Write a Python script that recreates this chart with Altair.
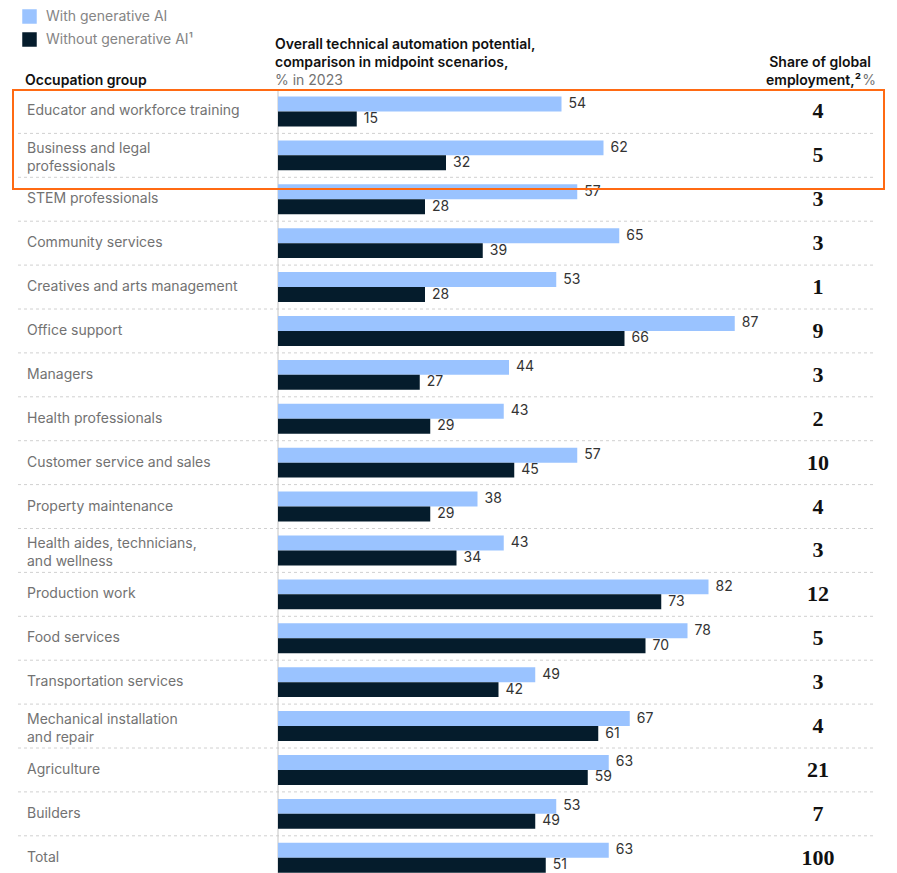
import altair as alt
import pandas as pd

groups = [
    "Educator and workforce training", "Business and legal professionals",
    "STEM professionals", "Community services", "Creatives and arts management",
    "Office support", "Managers", "Health professionals", "Customer service and sales",
    "Property maintenance", "Health aides, technicians, and wellness", "Production work",
    "Food services", "Transportation services", "Mechanical installation and repair",
    "Agriculture", "Builders", "Total",
]
group_labels = [
    "Educator and workforce training", "Business and legal\nprofessionals",
    "STEM professionals", "Community services", "Creatives and arts management",
    "Office support", "Managers", "Health professionals", "Customer service and sales",
    "Property maintenance", "Health aides, technicians,\nand wellness", "Production work",
    "Food services", "Transportation services", "Mechanical installation\nand repair",
    "Agriculture", "Builders", "Total",
]
with_ai = [54, 62, 57, 65, 53, 87, 44, 43, 57, 38, 43, 82, 78, 49, 67, 63, 53, 63]
without_ai = [15, 32, 28, 39, 28, 66, 27, 29, 45, 29, 34, 73, 70, 42, 61, 59, 49, 51]
employment = [4, 5, 3, 3, 1, 9, 3, 2, 10, 4, 3, 12, 5, 3, 4, 21, 7, 100]
series_names = ["With generative AI", "Without generative AI¹"]
colors = ["#9ac3ff", "#051c2c"]

rows = []
for g, w, wo in zip(groups, with_ai, without_ai):
    rows.append({"group": g, "series": series_names[0], "value": w})
    rows.append({"group": g, "series": series_names[1], "value": wo})
bars_df = pd.DataFrame(rows)
groups_df = pd.DataFrame({"group": groups, "label": group_labels, "share": employment})
sep_df = groups_df.iloc[1:].reset_index(drop=True)

W, H = 881, 865
STEP = 43.9
ROW_TOP = 81.5
FONT = "Inter"

y_scale = alt.Scale(domain=groups, range=[ROW_TOP, ROW_TOP + STEP * len(groups)],
                    paddingInner=0, paddingOuter=0)
x_scale = alt.Scale(domain=[0, 100], range=[270, 270 + 525])


def Y(**kw):
    return alt.Y("group:N", scale=y_scale, axis=None, **kw)


yoff = alt.YOffset("series:N", sort=series_names,
                   scale=alt.Scale(paddingInner=0, paddingOuter=0.467))

bars = alt.Chart(bars_df).mark_bar().encode(
    x=alt.X("value:Q", scale=x_scale, axis=None),
    y=Y(),
    yOffset=yoff,
    color=alt.Color("series:N", sort=series_names,
                    scale=alt.Scale(domain=series_names, range=colors),
                    legend=alt.Legend(title=None, orient="none", legendX=14, legendY=1,
                                      symbolType="square", symbolSize=210,
                                      symbolStrokeWidth=0, labelFontSize=14,
                                      labelColor="#858585", labelFont=FONT,
                                      rowPadding=8, padding=0, labelOffset=9)),
)

values = alt.Chart(bars_df).mark_text(align="left", baseline="middle", dx=7,
                                      fontSize=14, font=FONT, color="#333333").encode(
    x=alt.X("value:Q", scale=x_scale, axis=None),
    y=Y(),
    yOffset=yoff,
    text="value:Q",
)

seps = alt.Chart(sep_df).mark_rule(strokeDash=[3, 3], color="#d0d0d0", strokeWidth=1).encode(
    y=Y(bandPosition=0), x=alt.value(10), x2=alt.value(867)
)

zero = alt.Chart(pd.DataFrame({"z": [0]})).mark_rule(color="#c4c4c4", strokeWidth=1).encode(
    x=alt.X("z:Q", scale=x_scale, axis=None), y=alt.value(ROW_TOP), y2=alt.value(H)
)

name_style = dict(align="left", baseline="middle", lineBreak="\n", fontSize=14,
                  lineHeight=18, font=FONT, color="#727272")
names_single = alt.Chart(groups_df).transform_filter(
    "indexof(datum.label, '\\n') < 0"
).mark_text(**name_style).encode(x=alt.value(19), y=Y(), text="label:N")
names_multi = alt.Chart(groups_df).transform_filter(
    "indexof(datum.label, '\\n') >= 0"
).mark_text(dy=-6, **name_style).encode(x=alt.value(19), y=Y(), text="label:N")

shares = alt.Chart(groups_df).mark_text(align="center", baseline="middle",
                                        font="Liberation Serif", fontWeight="bold",
                                        fontSize=22, color="#111111").encode(
    x=alt.value(810), y=Y(), text="share:N"
)


def label(text, x, y, align="left", bold=False, color="#111111"):
    return alt.Chart(pd.DataFrame({"t": [text]})).mark_text(
        align=align, baseline="middle", fontSize=14, font=FONT,
        fontWeight=600 if bold else "normal", color=color
    ).encode(x=alt.value(x), y=alt.value(y), text="t:N")


headers = [
    label("Occupation group", 17, 73, bold=True),
    label("Overall technical automation potential,", 267, 37, bold=True),
    label("comparison in midpoint scenarios,", 267, 55, bold=True),
    label("% in 2023", 267, 73, color="#727272"),
    label("Share of global", 863, 55, align="right", bold=True),
    label("employment,²", 853, 73, align="right", bold=True),
    label("%", 868, 73, align="right", color="#727272"),
]

box = alt.Chart(pd.DataFrame({"b": [1]})).mark_rect(
    fillOpacity=0, stroke="#ff6a13", strokeWidth=2
).encode(x=alt.value(5), x2=alt.value(876), y=alt.value(82), y2=alt.value(181))

chart = alt.layer(seps, zero, bars, values, names_single, names_multi, shares,
                  *headers, box).properties(
    width=W, height=H,
    autosize=alt.AutoSizeParams(type="none"),
    padding=0,
).configure_view(stroke=None)

chart.save("out.html", embed_options={"renderer": "svg", "actions": False})
